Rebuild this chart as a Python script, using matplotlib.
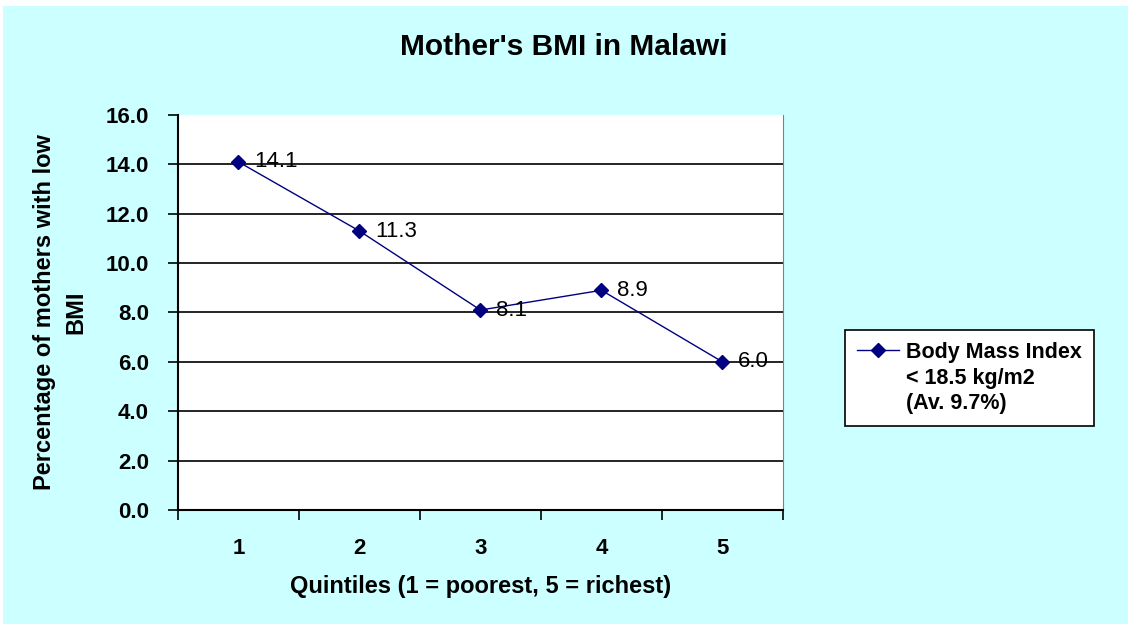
import matplotlib.pyplot as plt
from matplotlib.lines import Line2D
from matplotlib.patches import Rectangle
from matplotlib.ticker import MultipleLocator, FixedLocator

plt.rcParams['font.family'] = ['Liberation Sans', 'DejaVu Sans']

quintiles = [1, 2, 3, 4, 5]
low_bmi = [14.1, 11.3, 8.1, 8.9, 6.0]
legend_lines = ["Body Mass Index", "< 18.5 kg/m2\n(Av. 9.7%)"]

bg = '#CCFFFF'
navy = '#000080'

fig = plt.figure(figsize=(11.28, 6.24), dpi=100)
fig.patch.set_facecolor('white')
# cyan chart area, leaving the thin white margin at top/left
fig.add_artist(Rectangle((3 / 1128, 0), 1, 1 - 6 / 624, transform=fig.transFigure,
                         facecolor=bg, edgecolor='none', zorder=0))

ax = fig.add_axes([0.1578, 0.1827, 0.5363, 0.633])
ax.set_facecolor('white')

line, = ax.plot(quintiles, low_bmi, color=navy, linewidth=1, marker='D', markersize=7,
                markerfacecolor=navy, markeredgecolor=navy, zorder=3)
for x, y in zip(quintiles, low_bmi):
    ax.annotate(f"{y:.1f}", (x, y), xytext=(11, 0), textcoords='offset points',
                va='center', ha='left', fontsize=16, color='black', zorder=4)

ax.set_xlim(0.5, 5.5)
ax.set_ylim(0, 16)
ax.yaxis.set_major_locator(MultipleLocator(2))
ax.yaxis.set_major_formatter(lambda v, p: f"{v:.1f}")
ax.set_xticks(quintiles)
ax.xaxis.set_minor_locator(FixedLocator([0.5, 1.5, 2.5, 3.5, 4.5, 5.5]))
ax.tick_params(axis='x', which='major', length=0, pad=20, labelsize=16)
ax.tick_params(axis='x', which='minor', length=7, width=1.2, direction='out')
ax.tick_params(axis='y', length=7, width=1.2, labelsize=16, pad=14)
for lab in ax.get_xticklabels() + ax.get_yticklabels():
    lab.set_fontweight('bold')

for yv in range(2, 16, 2):
    ax.axhline(yv, color='black', linewidth=1.2, zorder=1)

ax.spines['top'].set_visible(False)
ax.spines['right'].set_color('#808080')
ax.spines['left'].set_linewidth(1.5)
ax.spines['bottom'].set_linewidth(1.5)

ax.set_xlabel("Quintiles (1 = poorest, 5 = richest)", fontsize=17, fontweight='bold',
              labelpad=12)
ax.set_ylabel("Percentage of mothers with low\nBMI", fontsize=17, fontweight='bold',
              linespacing=1.45)
ax.yaxis.set_label_coords(-0.15, 0.5)
fig.suptitle("Mother's BMI in Malawi", fontsize=21.5, fontweight='bold', y=0.947)

blank = Line2D([], [], linestyle='none')
leg = fig.legend([line, blank], legend_lines, loc='upper left',
                 bbox_to_anchor=(845 / 1128, 1 - 330 / 624),
                 prop={'weight': 'bold', 'size': 15.5}, frameon=True, fancybox=False,
                 framealpha=1, handlelength=1.95, handletextpad=0.35, labelspacing=0.25,
                 borderpad=0.55, borderaxespad=0)
for t in leg.get_texts():
    t.set_linespacing(1.25)
leg.get_frame().set_edgecolor('black')
leg.get_frame().set_linewidth(1.2)

fig.savefig('out.png', dpi=100)
